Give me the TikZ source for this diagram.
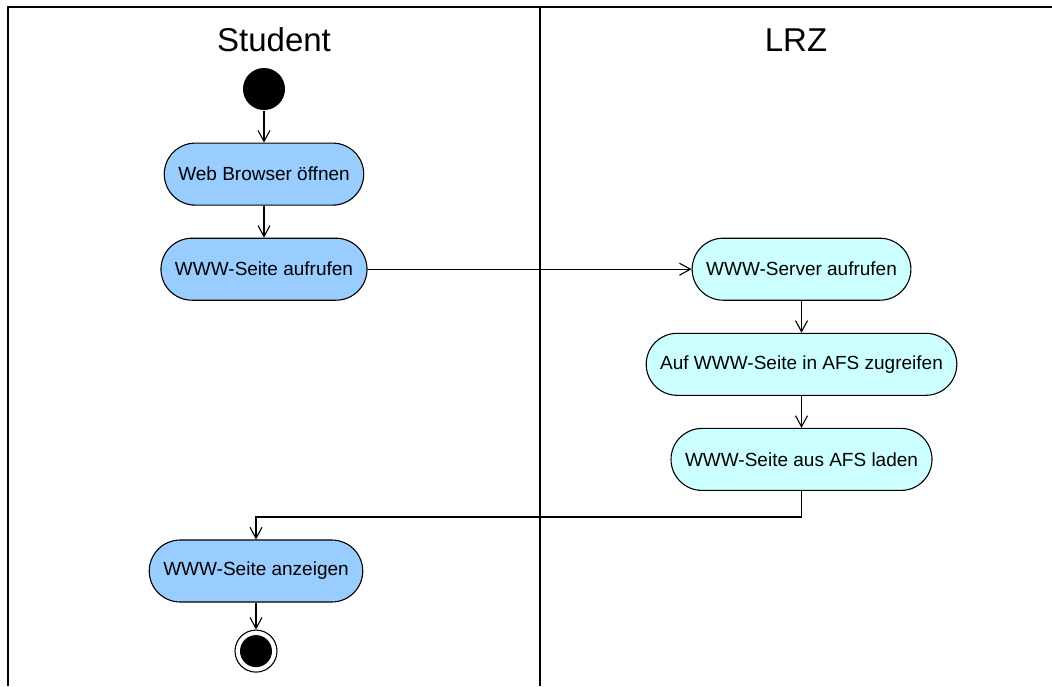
\documentclass[tikz,border=0pt]{standalone}
\usepackage{fontspec}
\setmainfont{Liberation Sans}
\usetikzlibrary{positioning,arrows.meta}

\definecolor{stud}{RGB}{153,204,255}
\definecolor{lrz}{RGB}{204,255,255}

\begin{document}
\begin{tikzpicture}[
    x=1pt, y=-1pt, >={Straight Barb[length=11pt,width=12pt]},
    node distance=32pt, line width=1.1pt,
    act/.style={draw,rounded corners=31pt,minimum height=62pt,inner xsep=14pt,
      font=\fontsize{19}{22}\selectfont,fill=stud},
    srv/.style={act,fill=lrz},
    ttl/.style={font=\fontsize{33}{38}\selectfont,anchor=base},
    init/.style={circle,fill=black,minimum size=42pt,inner sep=0pt},
    final/.style={circle,draw,minimum size=42pt,inner sep=0pt,
      path picture={\fill (path picture bounding box.center) circle (16pt);}},
  ]
  \useasboundingbox (0,0) rectangle (1052,686);
  % swimlanes
  \draw[line width=2pt] (1052,7) -- (8,7) -- (8,686);
  \draw[line width=2pt] (540,7) -- (540,686);
  \node[ttl] (tstud) at (274,51) {Student};
  \node[ttl] (tlrz) at (796,51) {LRZ};
  % student side
  \node[init] (start) at (264,89) {};
  \node[act, below=of start] (open) {Web Browser öffnen};
  \node[act, below=of open] (call) {WWW-Seite aufrufen};
  % lrz side
  \node[srv, right=324pt of call] (server) {WWW-Server aufrufen};
  \node[srv, below=of server] (access) {Auf WWW-Seite in AFS zugreifen};
  \node[srv, below=of access] (load) {WWW-Seite aus AFS laden};
  % back to the student
  \node[act] (show) at (256,571) {WWW-Seite anzeigen};
  \node[final, below=27pt of show] (stop) {};
  \draw[->] (start) -- (open);
  \draw[->] (open) -- (call);
  \draw[->] (call) -- (server);
  \draw[->] (server) -- (access);
  \draw[->] (access) -- (load);
  \draw[->] (load.south) -- ++(0,26) -| (show.north);
  \draw[->] (show) -- (stop);
\end{tikzpicture}
\end{document}
